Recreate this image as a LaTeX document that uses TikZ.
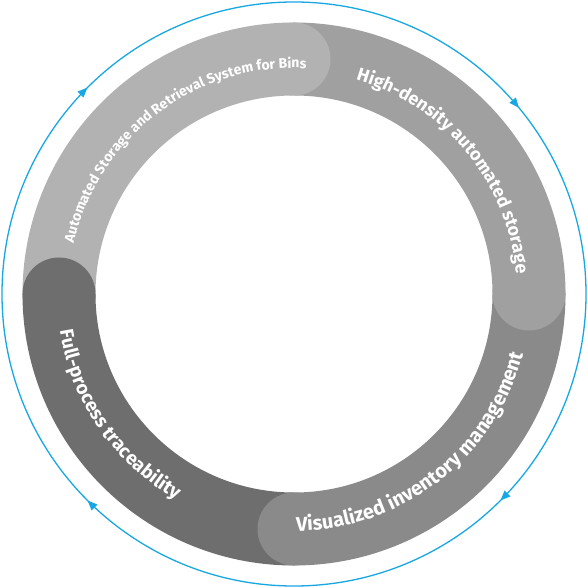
\documentclass[tikz,border=0pt]{standalone}
\usepackage{fontspec}
\setmainfont{Fira Sans}
\newfontfamily\ringfont{Fira Sans}
\usetikzlibrary{decorations.text,decorations.markings,arrows.meta}
\definecolor{binsgray}{HTML}{B2B2B2}
\definecolor{densegray}{HTML}{A0A0A0}
\definecolor{viewgray}{HTML}{8A8A8A}
\definecolor{tracegray}{HTML}{6E6E6E}
\definecolor{cyclecyan}{HTML}{17A8E3}
\begin{document}
\begin{tikzpicture}[band/.style={line width=73pt},
  capdisc/.style={radius=36.5pt},
  ringtext/.style={decorate,decoration={text along path,text align=center,text color=white,text={#1}}},
  flow/.style={decoration={markings,
    mark=at position 0.125 with {\arrow{Triangle[length=10pt,width=8pt]}},
    mark=at position 0.375 with {\arrow{Triangle[length=10pt,width=8pt]}},
    mark=at position 0.625 with {\arrow{Triangle[length=10pt,width=8pt]}},
    mark=at position 0.89 with {\arrow{Triangle[length=10pt,width=8pt]}}},postaction={decorate}}]
\useasboundingbox (-294pt,-294pt) rectangle (294pt,294pt);
\path[draw,cyclecyan,line width=1.3pt,flow] (0:292pt) arc[start angle=360,end angle=0,radius=292pt];
\path[draw,band,binsgray] (180:235pt) arc[start angle=180,end angle=90,radius=235pt];
\path[draw,band,densegray] (90:235pt) arc[start angle=90,end angle=0,radius=235pt];
\path[draw,band,viewgray] (360:235pt) arc[start angle=360,end angle=270,radius=235pt];
\path[draw,band,tracegray] (270:235pt) arc[start angle=270,end angle=180,radius=235pt];
\fill[binsgray] (90:235pt) circle[capdisc];
\fill[densegray] (0:235pt) circle[capdisc];
\fill[viewgray] (270:235pt) circle[capdisc];
\fill[tracegray] (180:235pt) circle[capdisc];
\path[ringtext={|\ringfont\bfseries\fontsize{14}{14}\selectfont|Automated Storage and Retrieval System for Bins}] (187:226pt) arc[start angle=187,end angle=67,radius=226pt];
\path[ringtext={|\ringfont\bfseries\fontsize{18}{18}\selectfont|High-density automated storage}] (100:223pt) arc[start angle=100,end angle=-21,radius=223pt];
\path[ringtext={|\ringfont\bfseries\fontsize{20}{20}\selectfont|Visualized inventory management}] (248:237pt) arc[start angle=248,end angle=368,radius=237pt];
\path[ringtext={|\ringfont\bfseries\fontsize{19}{19}\selectfont|Full-process traceability}] (155:237pt) arc[start angle=155,end angle=274,radius=237pt];
\end{tikzpicture}
\end{document}
